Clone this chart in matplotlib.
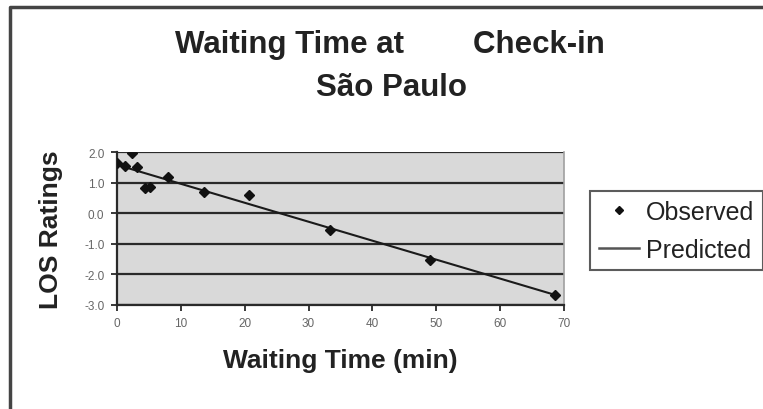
import matplotlib.pyplot as plt
from matplotlib.lines import Line2D

# observed LOS ratings vs waiting time
obs_x = [0.0, 1.2, 2.3, 3.2, 4.4, 5.2, 8.0, 13.7, 20.7, 33.4, 49.0, 68.6]
obs_y = [1.64, 1.55, 1.96, 1.50, 0.82, 0.85, 1.19, 0.70, 0.60, -0.54, -1.52, -2.67]

# fitted line end points
pred_x = [0.0, 68.6]
pred_y = [1.58, -2.67]

x_ticks = [0, 10, 20, 30, 40, 50, 60, 70]
y_ticks = [-3.0, -2.0, -1.0, 0.0, 1.0, 2.0]

plt.rcParams["font.family"] = ["Liberation Sans", "DejaVu Sans"]
plt.rcParams["axes.unicode_minus"] = False

fig = plt.figure(figsize=(7.63, 4.10), dpi=100)
ax = fig.add_axes([117 / 763, 1 - 306 / 410, 447 / 763, 153 / 410])
ax.set_facecolor("#d9d9d9")

for y in y_ticks:
    ax.axhline(y, color="#2a2a2a", linewidth=1.6, zorder=1)

ax.plot(pred_x, pred_y, color="#1a1a1a", linewidth=1.5, zorder=2, label="Predicted")
ax.plot(obs_x, obs_y, linestyle="none", marker="D", markersize=5.5,
        color="#111111", zorder=3, label="Observed")

ax.set_xlim(0, 70)
ax.set_ylim(-3, 2)
ax.set_xticks(x_ticks)
ax.set_yticks(y_ticks)
ax.set_yticklabels([f"{v:.1f}" for v in y_ticks])
ax.tick_params(axis="both", direction="out", length=4, width=1.3,
               colors="#2a2a2a", labelcolor="#666666", labelsize=8.5, pad=5)

for side in ["left", "bottom"]:
    ax.spines[side].set_color("#2a2a2a")
    ax.spines[side].set_linewidth(1.6)
ax.spines["top"].set_visible(False)
ax.spines["right"].set_color("#a0a0a0")
ax.spines["right"].set_linewidth(1.2)

ax.set_xlabel("Waiting Time (min)", fontsize=19, fontweight="bold",
              color="#222222", labelpad=13)
ax.set_ylabel("LOS Ratings", fontsize=19, fontweight="bold",
              color="#222222", labelpad=15)

fig.text(390 / 763, 1 - 45 / 410, "Waiting Time at        Check-in",
         ha="center", va="center", fontsize=22.5, fontweight="bold", color="#222222")
fig.text(392 / 763, 1 - 88 / 410, "São Paulo",
         ha="center", va="center", fontsize=22.5, fontweight="bold", color="#222222")

handles = [
    Line2D([], [], linestyle="none", marker="D", markersize=4, color="#111111"),
    Line2D([], [], color="#555555", linewidth=1.8),
]
leg = fig.legend(handles, ["Observed", "Predicted"], loc="upper left",
                 bbox_to_anchor=(590 / 763, 1 - 192 / 410), fontsize=18,
                 frameon=True, fancybox=False, handlelength=1.6,
                 handletextpad=0.3, borderpad=0.35, labelspacing=0.55,
                 borderaxespad=0)
leg.get_frame().set_edgecolor("#333333")
leg.get_frame().set_linewidth(1.5)
for t in leg.get_texts():
    t.set_color("#222222")

# outer chart border (left and top edges visible)
fig.add_artist(Line2D([10 / 763, 10 / 763, 1.0], [0.0, 1 - 8 / 410, 1 - 8 / 410],
                      transform=fig.transFigure, color="#444444", linewidth=2.5))

fig.savefig("out.png", dpi=100)
